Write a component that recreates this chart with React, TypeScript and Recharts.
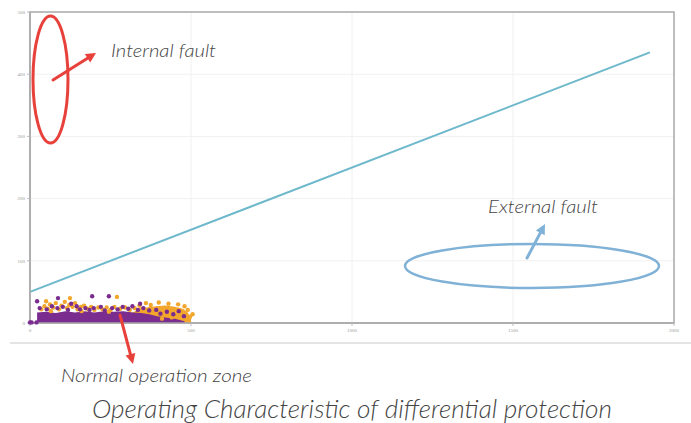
import { ComposedChart, Line, Area, Scatter, XAxis, YAxis, ZAxis, CartesianGrid, ReferenceArea } from "recharts";

const xTicks = [0, 500, 1000, 1500, 2000];
const yTicks = [0, 100, 200, 300, 400, 500];

// differential relay operating characteristic (restraint vs operate)
const characteristic = [
  { x: 0, y: 50 },
  { x: 1925, y: 435 },
];

// dense core of the normal-operation measurements
const purpleBand = [
  { x: 22, y: 17 }, { x: 50, y: 18 }, { x: 80, y: 16 }, { x: 110, y: 19 },
  { x: 140, y: 17 }, { x: 170, y: 19 }, { x: 200, y: 17 }, { x: 230, y: 19 },
  { x: 260, y: 18 }, { x: 290, y: 19 }, { x: 320, y: 17 }, { x: 345, y: 16 },
  { x: 370, y: 14 }, { x: 395, y: 11 }, { x: 420, y: 9 }, { x: 450, y: 7 },
  { x: 480, y: 3 },
];

const orangeBand = [
  { x: 300, y: 12 }, { x: 330, y: 20 }, { x: 360, y: 25 }, { x: 390, y: 27 },
  { x: 420, y: 28 }, { x: 450, y: 26 }, { x: 475, y: 23 }, { x: 490, y: 17 },
  { x: 500, y: 7 },
];

const orangeDots = [
  { x: 50, y: 35 }, { x: 124, y: 40 }, { x: 270, y: 42 }, { x: 497, y: 10 }, { x: 505, y: 14 },
  { x: 35, y: 22 }, { x: 45, y: 27 }, { x: 55, y: 23 }, { x: 62, y: 30 }, { x: 72, y: 25 },
  { x: 80, y: 32 }, { x: 90, y: 22 }, { x: 98, y: 28 }, { x: 108, y: 34 }, { x: 115, y: 24 },
  { x: 122, y: 29 }, { x: 132, y: 26 }, { x: 140, y: 32 }, { x: 148, y: 22 }, { x: 158, y: 26 },
  { x: 168, y: 28 }, { x: 178, y: 23 }, { x: 190, y: 26 }, { x: 200, y: 21 }, { x: 212, y: 25 },
  { x: 225, y: 22 }, { x: 238, y: 25 }, { x: 250, y: 21 }, { x: 262, y: 26 }, { x: 280, y: 23 },
  { x: 295, y: 25 }, { x: 310, y: 21 }, { x: 325, y: 24 }, { x: 340, y: 28 }, { x: 360, y: 32 },
  { x: 375, y: 29 }, { x: 400, y: 33 }, { x: 430, y: 31 }, { x: 460, y: 30 }, { x: 480, y: 27 },
  { x: 490, y: 21 }, { x: 470, y: 13 }, { x: 440, y: 9 }, { x: 410, y: 7 },
  { x: 65, y: 19 }, { x: 160, y: 19 }, { x: 245, y: 18 }, { x: 345, y: 22 },
];

const purpleDots = [
  { x: 22, y: 35 }, { x: 87, y: 40 }, { x: 193, y: 43 }, { x: 245, y: 43 }, { x: 342, y: 31 },
  { x: 0, y: 1 }, { x: 5, y: 1 }, { x: 20, y: 1 },
  { x: 30, y: 24 }, { x: 52, y: 22 }, { x: 68, y: 27 }, { x: 85, y: 24 }, { x: 102, y: 26 },
  { x: 118, y: 21 }, { x: 128, y: 31 }, { x: 145, y: 27 }, { x: 155, y: 22 }, { x: 172, y: 24 },
  { x: 185, y: 21 }, { x: 198, y: 24 }, { x: 220, y: 26 }, { x: 232, y: 20 }, { x: 255, y: 24 },
  { x: 272, y: 22 }, { x: 288, y: 26 }, { x: 305, y: 23 }, { x: 318, y: 27 }, { x: 335, y: 21 },
  { x: 352, y: 24 }, { x: 370, y: 20 }, { x: 392, y: 21 }, { x: 405, y: 15 }, { x: 425, y: 18 },
  { x: 445, y: 14 }, { x: 462, y: 19 }, { x: 478, y: 11 },
];

const txt = { fontFamily: "Lato, 'Open Sans', sans-serif", fontStyle: "italic", fontWeight: 300, fill: "#444" } as const;

function Arrow({ x1, y1, x2, y2, color, w }: any) {
  const a = Math.atan2(y2 - y1, x2 - x1);
  const len = 10;
  const hw = 5;
  const bx = x2 - len * Math.cos(a);
  const by = y2 - len * Math.sin(a);
  const px = -Math.sin(a) * hw;
  const py = Math.cos(a) * hw;
  return (
    <g>
      <line x1={x1} y1={y1} x2={bx} y2={by} stroke={color} strokeWidth={w} strokeLinecap="round" />
      <polygon points={`${x2},${y2} ${bx + px},${by + py} ${bx - px},${by - py}`} fill={color} />
    </g>
  );
}

export default function App() {
  return (
    <div style={{ position: "absolute", left: 0, top: 0, width: 691, height: 423, background: "#fff" }}>
      <ComposedChart width={691} height={345} margin={{ top: 12, right: 17, left: 0, bottom: 10 }}>
        <CartesianGrid stroke="#f0f0f0" strokeWidth={1} />
        <XAxis
          type="number"
          dataKey="x"
          domain={[0, 2000]}
          ticks={xTicks}
          height={12}
          tick={{ fontSize: 5, fill: "#999" }}
          tickSize={3}
          axisLine={{ stroke: "#aaa", strokeWidth: 1.5 }}
          tickLine={{ stroke: "#bbb" }}
        />
        <YAxis
          type="number"
          dataKey="y"
          domain={[0, 500]}
          ticks={yTicks}
          width={30}
          tick={{ fontSize: 5, fill: "#999" }}
          tickSize={3}
          axisLine={{ stroke: "#aaa", strokeWidth: 1.5 }}
          tickLine={{ stroke: "#bbb" }}
        />
        <ZAxis range={[15, 15]} />
        <ReferenceArea x1={0} x2={2000} y1={0} y2={500} fill="none" stroke="#aaa" strokeWidth={1.5} />
        <Area data={orangeBand} dataKey="y" type="linear" stroke="none" fill="#f2a62c" fillOpacity={1} isAnimationActive={false} />
        <Area data={purpleBand} dataKey="y" type="linear" stroke="none" fill="#7b2c8f" fillOpacity={1} isAnimationActive={false} />
        <Scatter data={orangeDots} dataKey="y" fill="#f2a62c" isAnimationActive={false} />
        <Scatter data={purpleDots} dataKey="y" fill="#7b2c8f" isAnimationActive={false} />
        <Line data={characteristic} dataKey="y" type="linear" stroke="#6db8cb" strokeWidth={2} dot={false} isAnimationActive={false} />
      </ComposedChart>
      <div style={{ position: "absolute", left: 10, right: 0, top: 342, height: 2, background: "#e4e4e4" }} />
      <svg width={691} height={423} style={{ position: "absolute", left: 0, top: 0, pointerEvents: "none" }}>
        <ellipse cx={50.5} cy={79.5} rx={17.5} ry={63.5} fill="none" stroke="#e8403a" strokeWidth={3} />
        <Arrow x1={53} y1={80} x2={96} y2={53} color="#e8403a" w={3} />
        <text x={111} y={57} fontSize={17} textLength={105} lengthAdjust="spacingAndGlyphs" {...txt}>Internal fault</text>

        <ellipse cx={532} cy={266} rx={127} ry={22} fill="none" stroke="#80b1d6" strokeWidth={2.5} />
        <Arrow x1={527} y1={258} x2={545} y2={224} color="#80b1d6" w={3} />
        <text x={488} y={213} fontSize={17} textLength={110} lengthAdjust="spacingAndGlyphs" {...txt}>External fault</text>

        <Arrow x1={120} y1={315} x2={133} y2={364} color="#e8403a" w={3} />
        <text x={61} y={382} fontSize={17} textLength={191} lengthAdjust="spacingAndGlyphs" {...txt}>Normal operation zone</text>

        <text x={92} y={418} fontSize={25} textLength={520} lengthAdjust="spacingAndGlyphs" {...txt}>
          Operating Characteristic of differential protection
        </text>
      </svg>
    </div>
  );
}
